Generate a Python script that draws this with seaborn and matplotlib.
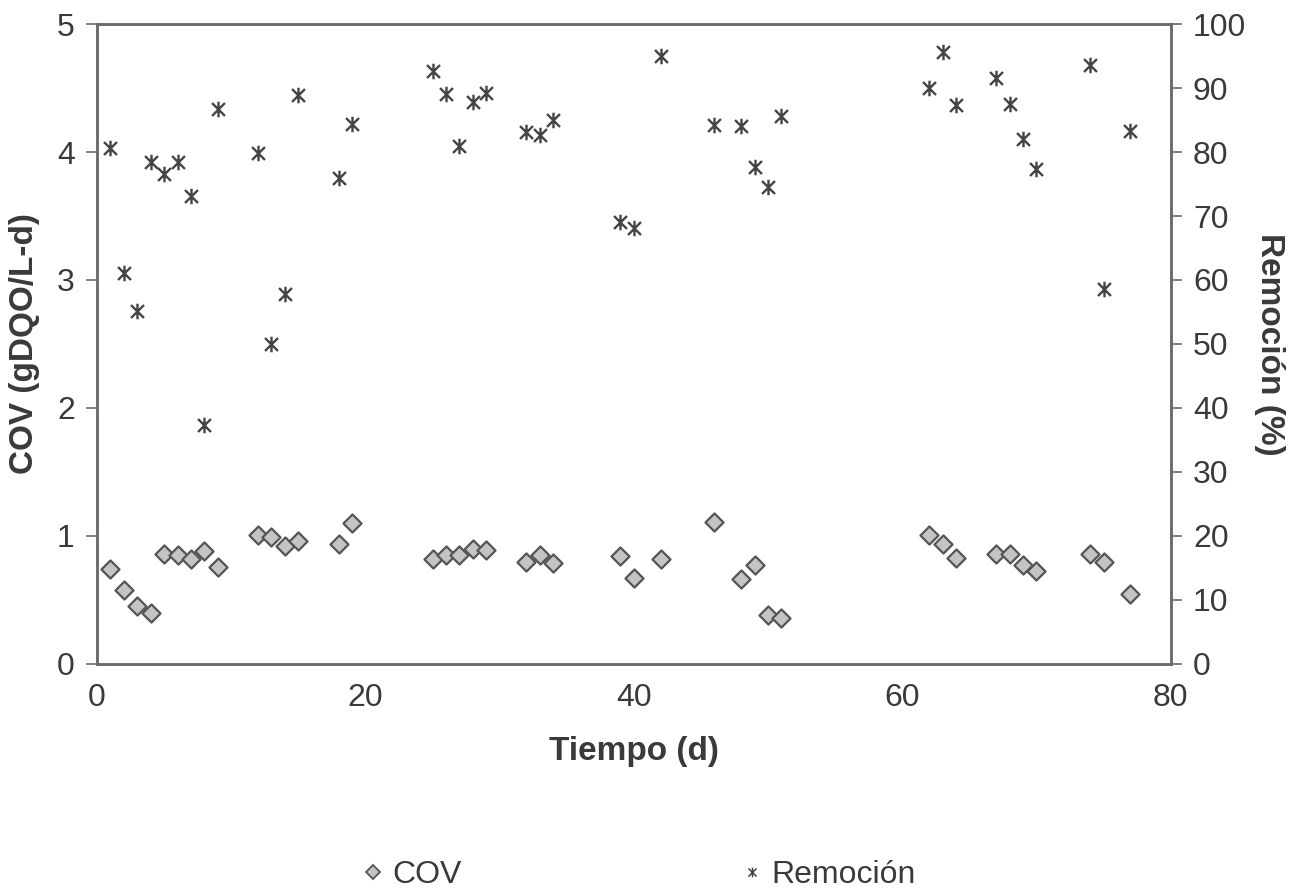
import numpy as np
import pandas as pd
import matplotlib
matplotlib.use("Agg")
import matplotlib.pyplot as plt
from matplotlib.path import Path
from matplotlib.lines import Line2D
import seaborn as sns

# ---- data ----
cov_days = [1, 2, 3, 4, 5, 6, 7, 8, 9, 12, 13, 14, 15, 18, 19, 25, 26, 27, 28, 29,
            32, 33, 34, 39, 40, 42, 46, 48, 49, 50, 51, 62, 63, 64, 67, 68, 69, 70,
            74, 75, 77]
cov_vals = [0.74, 0.58, 0.45, 0.40, 0.86, 0.85, 0.82, 0.88, 0.76, 1.01, 0.99, 0.92,
            0.96, 0.94, 1.10, 0.82, 0.85, 0.85, 0.90, 0.89, 0.80, 0.85, 0.79, 0.84,
            0.67, 0.82, 1.11, 0.66, 0.77, 0.38, 0.36, 1.01, 0.94, 0.83, 0.86, 0.86,
            0.77, 0.73, 0.86, 0.80, 0.55]
rem_days = cov_days
rem_vals = [80.7, 61.1, 55.2, 78.4, 76.6, 78.5, 73.2, 37.4, 86.7, 79.8, 50.0, 57.8,
            88.9, 76.0, 84.4, 92.6, 89.0, 81.0, 87.8, 89.3, 83.2, 82.6, 85.0, 69.0,
            68.2, 95.0, 84.2, 84.1, 77.7, 74.6, 85.7, 90.0, 95.7, 87.3, 91.5, 87.5,
            82.1, 77.3, 93.6, 58.6, 83.3]
x_ticks = [0, 20, 40, 60, 80]
left_ticks = [0, 1, 2, 3, 4, 5]
right_ticks = list(range(0, 101, 10))

df_cov = pd.DataFrame({"Tiempo": cov_days, "COV": cov_vals})
df_rem = pd.DataFrame({"Tiempo": rem_days, "Remocion": rem_vals})

sns.set_style("white")
plt.rcParams["font.family"] = ["Liberation Sans", "DejaVu Sans"]

# asterisk marker: X plus vertical bar
star = Path(
    [(-1, -1), (1, 1), (-1, 1), (1, -1), (0, -1.2), (0, 1.2)],
    [Path.MOVETO, Path.LINETO, Path.MOVETO, Path.LINETO, Path.MOVETO, Path.LINETO],
)

fig = plt.figure(figsize=(12.97, 8.90), dpi=100)
ax = fig.add_axes([0.0748, 0.254, 0.8278, 0.719])
ax2 = ax.twinx()

spine_col = "#6a6a6a"
txt_col = "#3a3a3a"
sns.scatterplot(data=df_cov, x="Tiempo", y="COV", ax=ax, marker="D", s=85,
                color="#c4c4c4", edgecolor="#555555", linewidth=1.6, zorder=3,
                legend=False)
sns.scatterplot(data=df_rem, x="Tiempo", y="Remocion", ax=ax2, marker=star, s=125,
                color="#444444", edgecolor="#444444", linewidth=1.7, zorder=3,
                legend=False)

ax.set_xlim(0, 80)
ax.set_ylim(0, 5)
ax2.set_ylim(0, 100)
ax.set_xticks(x_ticks)
ax.set_yticks(left_ticks)
ax2.set_yticks(right_ticks)

fs = 23
lfs = 24
ax.tick_params(axis="both", direction="out", length=8, width=1.2, color=spine_col,
               labelsize=fs, labelcolor=txt_col, pad=8)
ax2.tick_params(axis="y", direction="out", length=8, width=1.2, color=spine_col,
                labelsize=fs, labelcolor=txt_col, pad=8)
ax.tick_params(axis="x", pad=6)

for a in (ax, ax2):
    for s in a.spines.values():
        s.set_visible(True)
        s.set_color(spine_col)
        s.set_linewidth(1.8)

ax.set_xlabel("Tiempo (d)", fontsize=lfs, fontweight="bold", color=txt_col, labelpad=16)
ax.set_ylabel("COV (gDQO/L-d)", fontsize=lfs, fontweight="bold", color=txt_col, labelpad=12)
ax2.set_ylabel("Remoción (%)", fontsize=lfs, fontweight="bold", color=txt_col,
               rotation=270, labelpad=28)

handles = [
    Line2D([], [], linestyle="none", marker="D", markersize=7, markerfacecolor="#c4c4c4",
           markeredgecolor="#555555", markeredgewidth=1.3, label="COV"),
    Line2D([], [], linestyle="none", marker=star, markersize=7, color="#444444",
           markeredgewidth=1.1, label="Remoción"),
]
fig.legend(handles=handles, loc="center", bbox_to_anchor=(0.492, 0.017), ncol=2,
           frameon=False, fontsize=fs, handletextpad=0.2, columnspacing=8.7,
           handlelength=0.8, labelcolor=txt_col)

fig.savefig("out.png", dpi=100, facecolor="white")
